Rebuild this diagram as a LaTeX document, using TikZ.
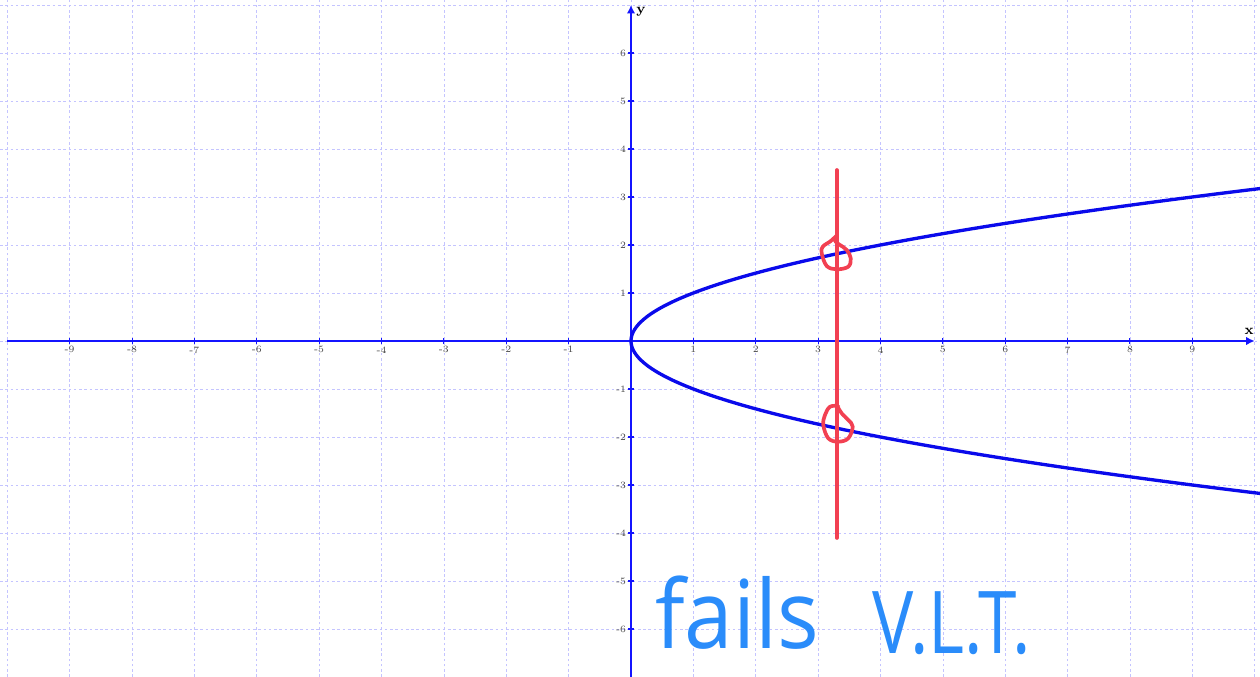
\documentclass[tikz,border=0pt]{standalone}
\usepackage{fontspec}
\usepackage{graphicx}
\newfontfamily\handfont{Open Sans}
\usetikzlibrary{arrows.meta}
\definecolor{gridc}{RGB}{196,196,255}
\definecolor{axisc}{RGB}{20,20,255}
\definecolor{curvec}{RGB}{10,10,235}
\definecolor{redc}{RGB}{242,64,82}
\definecolor{handc}{RGB}{42,140,250}
\definecolor{labc}{RGB}{70,70,70}
\tikzset{
  gridline/.style={draw=gridc, line width=0.35pt, dash pattern=on 1.5pt off 1.5pt},
  axisline/.style={draw=axisc, line width=1.1pt, -{Latex[length=1.7mm,width=1.7mm]}},
  tickmark/.style={draw=axisc, line width=0.6pt},
  ticklab/.style={font=\fontsize{5.5}{6}\selectfont, text=labc, inner sep=0.5pt},
  axlab/.style={font=\bfseries\fontsize{8}{9}\selectfont, inner sep=0pt},
  curve/.style={draw=curvec, line width=1.9pt},
  redmark/.style={draw=redc, line width=2.1pt, line cap=round, line join=round},
  hand/.style={text=handc, inner sep=0pt, anchor=base west}
}
\begin{document}
\begin{tikzpicture}[x=1.2474cm, y=0.96cm]
\useasboundingbox (-10.117,-7.0) rectangle (10.085,7.104);
% grid
\foreach \i in {-10,...,10} \draw[gridline] (\i,-7.0) -- (\i,7.104);
\foreach \j in {-7,...,7} \draw[gridline] (-10.117,\j) -- (10.085,\j);
% axes
\coordinate (xs) at (-10.0,0);
\coordinate (xe) at (10.0,0);
\coordinate (ys) at (0,-7.0);
\coordinate (ye) at (0,7.0);
\draw[axisline] (xs) -- (xe);
\draw[axisline] (ys) -- (ye);
\node[axlab] (xl) at (9.91,0.21) {x};
\node[axlab] (yl) at (0.16,6.85) {y};
% ticks
\foreach \i in {-9,...,-1,1,2,...,9} {
  \draw[tickmark] (\i,-0.0625) -- (\i,0.0625);
  \node[ticklab, anchor=north] (tx\i) at (\i,-0.09) {\i};
}
\foreach \j in {-6,...,-1,1,2,...,6} {
  \draw[tickmark] (-0.048,\j) -- (0.048,\j);
  \node[ticklab, anchor=east] (ty\j) at (-0.06,\j) {\j};
}
% parabola x = y^2
\draw[curve] plot[domain=-3.18:3.18, samples=120, smooth] ({\x*\x},{\x});
% vertical line test
\coordinate (vt) at (3.30,3.5625);
\coordinate (vb) at (3.30,-4.104);
\draw[redmark] (vt) -- (vb);
\draw[redmark] plot[smooth, tension=0.6] coordinates {
  (3.30,2.20) (3.20,2.08) (3.074,1.965) (3.058,1.827) (3.138,1.5625) (3.298,1.494)
  (3.484,1.548) (3.523,1.723) (3.459,1.896) (3.351,2.0) (3.28,2.07) (3.27,2.17)};
\draw[redmark] plot[smooth, tension=0.6] coordinates {
  (3.324,-1.354) (3.191,-1.369) (3.110,-1.542) (3.083,-1.75) (3.163,-2.027)
  (3.324,-2.098) (3.484,-2.027) (3.555,-1.785) (3.484,-1.646) (3.378,-1.506) (3.324,-1.396)};
% handwritten note
\node[hand, font=\handfont\fontsize{54}{56}\selectfont] (fails) at (0.385,-6.40) {\scalebox{0.92}[1.0]{fails}};
\node[hand, font=\handfont\fontsize{58}{60}\selectfont] (vlt) at (3.864,-6.50) {\scalebox{0.68}[0.85]{V.L.T.}};
\end{tikzpicture}
\end{document}
